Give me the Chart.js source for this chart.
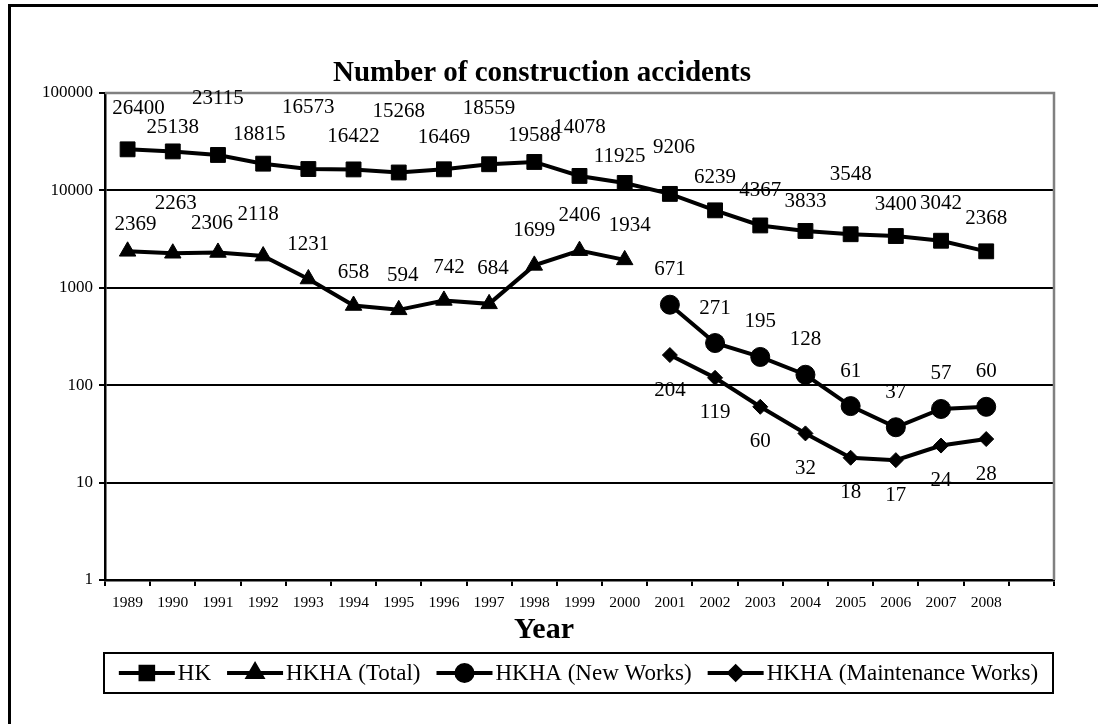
<!DOCTYPE html>
<html><head><meta charset="utf-8">
<script src="https://cdn.jsdelivr.net/npm/chart.js@4.4.1/dist/chart.umd.min.js"></script>
<style>
html,body{margin:0;padding:0;background:#fff;overflow:hidden}
#wrap{position:relative;width:1098px;height:724px;overflow:hidden}
#frame{position:absolute;left:8px;top:4px;width:1300px;height:900px;border:3px solid #000;box-sizing:border-box}
canvas{position:absolute;left:0;top:0}
</style></head><body>
<div id="wrap"><div id="frame"></div><canvas id="c" width="1098" height="724"></canvas></div>
<script>
// ---- data ----
const years = ['1989','1990','1991','1992','1993','1994','1995','1996','1997','1998','1999','2000','2001','2002','2003','2004','2005','2006','2007','2008',''];
const hk = [26400,25138,23115,18815,16573,16422,15268,16469,18559,19588,14078,11925,9206,6239,4367,3833,3548,3400,3042,2368,null];
const hkhaTotal = [2369,2263,2306,2118,1231,658,594,742,684,1699,2406,1934,null,null,null,null,null,null,null,null,null];
const hkhaNew = [null,null,null,null,null,null,null,null,null,null,null,null,671,271,195,128,61,37,57,60,null];
const hkhaMaint = [null,null,null,null,null,null,null,null,null,null,null,null,204,119,60,32,18,17,24,28,null];
const yTicks = [1,10,100,1000,10000,100000];
const seriesNames = ['HK','HKHA (Total)','HKHA (New Works)','HKHA (Maintenance Works)'];

// ---- label placement (pixel offsets of value labels from their points) ----
const labelDyHK = [-41,-24,-56,-29,-62,-33,-61,-32,-56,-26,-48,-26,-46,-33,-35,-29,-60,-32,-37,-33];
const labelDxHK = [11,0,0,-4,0,0,0,0,0,0,0,-5,4,0,0,0,0,0,0,0];
const labelDyTotal = [-27,-50,-29,-42,-35,-33,-34,-33,-35,-35,-35,-34];
const labelDxTotal = [8,3,-6,-5,0,0,4,5,4,0,0,5];
const labelLayout = [
  {dy: labelDyHK, dx: labelDxHK},
  {dy: labelDyTotal, dx: labelDxTotal},
  {dy: -35, dx: 0},
  {dy: 35, dx: 0}
];

const SERIF = '"Liberation Serif", "Times New Roman", serif';
const markerStyles = ['rect','triangle','circle','rectRot'];
const markerRadius = [10.5,9.5,9.5,7.5];

const dlabels = {
  id: 'dlabels',
  afterDatasetsDraw(chart) {
    const ctx = chart.ctx;
    ctx.save();
    ctx.font = '21px ' + SERIF;
    ctx.fillStyle = '#000';
    ctx.textAlign = 'center';
    ctx.textBaseline = 'middle';
    chart.data.datasets.forEach((ds, di) => {
      const meta = chart.getDatasetMeta(di);
      const lay = labelLayout[di];
      let k = 0;
      meta.data.forEach((pt, i) => {
        const v = ds.data[i];
        if (v == null) return;
        const dy = Array.isArray(lay.dy) ? lay.dy[k] : lay.dy;
        const dx = Array.isArray(lay.dx) ? lay.dx[k] : lay.dx;
        ctx.fillText(String(v), pt.x + dx, pt.y + dy);
        k++;
      });
    });
    ctx.restore();
  }
};

const frameAndTitles = {
  id: 'frameAndTitles',
  beforeDatasetsDraw(chart) {
    const ctx = chart.ctx, a = chart.chartArea;
    ctx.save();
    ctx.strokeStyle = '#808080';
    ctx.lineWidth = 2.5;
    ctx.beginPath();
    ctx.moveTo(a.left, a.top);
    ctx.lineTo(a.right, a.top);
    ctx.lineTo(a.right, a.bottom);
    ctx.stroke();
    ctx.restore();
  },
  afterDraw(chart) {
    const ctx = chart.ctx;
    ctx.save();
    ctx.fillStyle = '#000';
    ctx.textAlign = 'center';
    ctx.textBaseline = 'alphabetic';
    ctx.font = 'bold 29px ' + SERIF;
    ctx.fillText('Number of construction accidents', 542, 81);
    ctx.font = 'bold 30px ' + SERIF;
    ctx.fillText('Year', 544, 638);

    // legend
    const bx = 104, by = 653, bw = 949, bh = 40;
    ctx.strokeStyle = '#000';
    ctx.lineWidth = 2;
    ctx.strokeRect(bx, by, bw, bh);
    ctx.font = '23px ' + SERIF;
    ctx.textAlign = 'left';
    ctx.textBaseline = 'middle';
    const mw = 56, gap1 = 3, gap2 = 16;
    const widths = seriesNames.map(s => ctx.measureText(s).width);
    let total = 0;
    widths.forEach(w => total += mw + gap1 + w);
    total += gap2 * (seriesNames.length - 1);
    let x = bx + (bw - total) / 2;
    const cy = by + bh / 2;
    seriesNames.forEach((s, i) => {
      ctx.strokeStyle = '#000';
      ctx.lineWidth = 4;
      ctx.beginPath();
      ctx.moveTo(x, cy); ctx.lineTo(x + mw, cy); ctx.stroke();
      const style = markerStyles[i];
      const r = markerRadius[i] * 0.85;
      Chart.helpers.drawPoint(ctx, {pointStyle: style, radius: r, rotation: 0, borderWidth: 1}, x + mw / 2, cy);
      ctx.fillStyle = '#000';
      ctx.fill();
      ctx.fillText(s, x + mw + gap1, cy + 1);
      x += mw + gap1 + widths[i] + gap2;
    });
    ctx.restore();
  }
};

function mkDs(label, data, i) {
  return {
    label, data,
    borderColor: '#000', backgroundColor: '#000',
    borderWidth: 4,
    pointStyle: markerStyles[i],
    pointRadius: markerRadius[i],
    pointHoverRadius: markerRadius[i],
    pointBorderWidth: 1,
    pointBackgroundColor: '#000', pointBorderColor: '#000',
    tension: 0, spanGaps: false, clip: false
  };
}

new Chart(document.getElementById('c'), {
  type: 'line',
  data: {
    labels: years,
    datasets: [
      mkDs(seriesNames[0], hk, 0),
      mkDs(seriesNames[1], hkhaTotal, 1),
      mkDs(seriesNames[2], hkhaNew, 2),
      mkDs(seriesNames[3], hkhaMaint, 3)
    ]
  },
  options: {
    responsive: false,
    animation: false,
    devicePixelRatio: 1,
    layout: { padding: { left: 0, right: 44, top: 93, bottom: 0 }, autoPadding: false },
    plugins: { legend: { display: false }, title: { display: false }, tooltip: { enabled: false } },
    scales: {
      x: {
        type: 'category',
        offset: true,
        grid: { offset: true, drawOnChartArea: false, drawTicks: true, tickLength: 6, color: '#000', tickColor: '#000', lineWidth: 2 },
        border: { display: true, color: '#000', width: 2.5 },
        ticks: { color: '#000', font: { family: SERIF, size: 15.5 }, maxRotation: 0, minRotation: 0, autoSkip: false, padding: 8 },
        afterFit(s) { s.height = 144; }
      },
      y: {
        type: 'logarithmic',
        min: 1, max: 100000,
        afterBuildTicks(s) { s.ticks = yTicks.map(v => ({ value: v, major: false })); },
        grid: {
          drawTicks: true, tickLength: 6, lineWidth: 2, tickColor: '#000',
          color: (c) => (c.tick && c.tick.value === 100000) ? 'rgba(0,0,0,0)' : '#000'
        },
        border: { display: true, color: '#000', width: 2.5 },
        ticks: { color: '#000', font: { family: SERIF, size: 17 }, padding: 6, callback: (v) => String(v) },
        afterFit(s) { s.width = 105; }
      }
    }
  },
  plugins: [frameAndTitles, dlabels]
});
</script>
</body></html>
